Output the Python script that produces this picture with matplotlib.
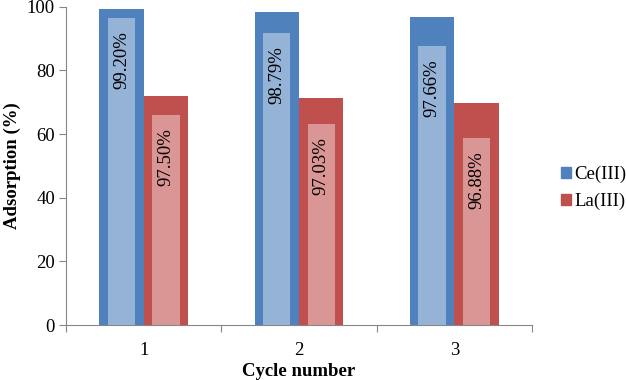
import numpy as np
import matplotlib
matplotlib.use('Agg')
import matplotlib.pyplot as plt
from matplotlib.patches import Patch

plt.rcParams['font.family'] = ['Liberation Serif', 'DejaVu Serif']

cycles = ['1', '2', '3']
ce_outer = [99.3, 98.2, 96.9]
la_outer = [72.0, 71.2, 69.9]
ce_inner = [96.4, 91.8, 87.7]
la_inner = [66.0, 63.3, 58.7]
ce_labels = ['99.20%', '98.79%', '97.66%']
la_labels = ['97.50%', '97.03%', '96.88%']

fs = 13.5

fig = plt.figure(figsize=(6.26, 3.80), dpi=100)
ax = fig.add_axes([66 / 626, 1 - 325 / 380, (532 - 66) / 626, (325 - 6.7) / 380])

x = np.arange(len(cycles))
off = 0.143
ax.bar(x - off, ce_outer, width=0.285, color='#4F81BD', zorder=2)
ax.bar(x + off, la_outer, width=0.285, color='#C0504D', zorder=2)
ax.bar(x - off, ce_inner, width=0.176, color='#95B3D7', zorder=3)
ax.bar(x + off, la_inner, width=0.176, color='#DA9694', zorder=3)

# value labels, rotated, just below the top of the light inner bars
for xi, h, lab in zip(x - off, ce_inner, ce_labels):
    ax.annotate(lab, (xi, h), xytext=(0, -9.5), textcoords='offset points',
                rotation=90, ha='center', va='top', fontsize=fs, zorder=4)
for xi, h, lab in zip(x + off, la_inner, la_labels):
    ax.annotate(lab, (xi, h), xytext=(0, -9.5), textcoords='offset points',
                rotation=90, ha='center', va='top', fontsize=fs, zorder=4)

ax.set_xlim(-0.5, 2.5)
ax.set_ylim(0, 100)
ax.set_yticks(range(0, 101, 20))
ax.set_xticks([-0.5, 0.5, 1.5, 2.5])
ax.set_xticklabels([])
ax.set_xticks(x, minor=True)
ax.set_xticklabels(cycles, minor=True)
ax.tick_params(axis='x', which='minor', length=0, pad=12, labelsize=fs)
ax.tick_params(axis='x', which='major', length=5, color='#868686')
ax.tick_params(axis='y', length=5, color='#868686', labelsize=fs, pad=3)

for s in ['top', 'right']:
    ax.spines[s].set_visible(False)
for s in ['left', 'bottom']:
    ax.spines[s].set_color('#868686')

ax.set_ylabel('Adsorption (%)', fontsize=fs, fontweight='bold', labelpad=4)
ax.set_xlabel('Cycle number', fontsize=fs, fontweight='bold', labelpad=3)

handles = [Patch(color='#4F81BD'), Patch(color='#C0504D')]
fig.legend(handles, ['Ce(III)', 'La(III)'], loc='center left',
           bbox_to_anchor=(553 / 626, 1 - 188 / 380), frameon=False,
           fontsize=fs, handlelength=0.55, handleheight=0.55,
           handletextpad=0.2, labelspacing=0.55, borderaxespad=0)

fig.savefig('out.png', dpi=100)
